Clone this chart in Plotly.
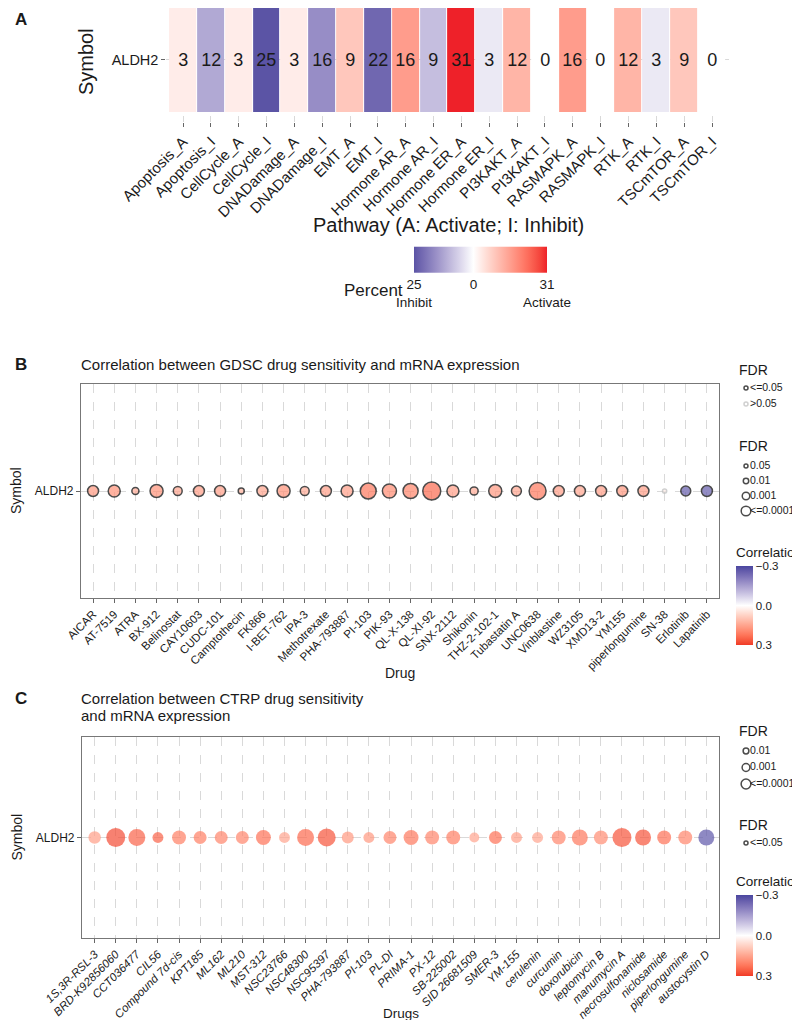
import plotly.graph_objects as go

# ---------------- data ----------------
pathways = ["Apoptosis_A", "Apoptosis_I", "CellCycle_A", "CellCycle_I", "DNADamage_A",
            "DNADamage_I", "EMT_A", "EMT_I", "Hormone AR_A", "Hormone AR_I",
            "Hormone ER_A", "Hormone ER_I", "PI3KAKT_A", "PI3KAKT_I", "RASMAPK_A",
            "RASMAPK_I", "RTK_A", "RTK_I", "TSCmTOR_A", "TSCmTOR_I"]
pathway_percent = [3, 12, 3, 25, 3, 16, 9, 22, 16, 9, 31, 3, 12, 0, 16, 0, 12, 3, 9, 0]
gene = "ALDH2"

gdsc_drugs = ["AICAR", "AT-7519", "ATRA", "BX-912", "Belinostat", "CAY10603", "CUDC-101",
              "Camptothecin", "FK866", "I-BET-762", "IPA-3", "Methotrexate", "PHA-793887",
              "PI-103", "PIK-93", "QL-X-138", "QL-XI-92", "SNX-2112", "Shikonin",
              "THZ-2-102-1", "Tubastatin A", "UNC0638", "Vinblastine", "WZ3105", "XMD13-2",
              "YM155", "piperlongumine", "SN-38", "Erlotinib", "Lapatinib"]
gdsc_cor = [0.17, 0.18, 0.14, 0.18, 0.15, 0.16, 0.16, 0.13, 0.15, 0.18, 0.14, 0.16, 0.16,
            0.22, 0.19, 0.20, 0.24, 0.16, 0.14, 0.17, 0.15, 0.22, 0.16, 0.15, 0.16, 0.17,
            0.16, 0.03, -0.26, -0.26]
gdsc_neglog_fdr = [3.6, 4.0, 2.1, 4.4, 2.8, 3.6, 3.6, 1.7, 3.6, 4.4, 2.8, 3.6, 4.0, 5.5, 4.8,
                   5.2, 6.3, 4.0, 2.5, 4.4, 3.2, 5.9, 3.6, 3.6, 3.6, 3.6, 3.6, 1.0, 3.2, 3.6]

ctrp_drugs = ["1S,3R-RSL-3", "BRD-K92856060", "CCT036477", "CIL56", "Compound 7d-cis",
              "KPT185", "ML162", "ML210", "MST-312", "NSC23766", "NSC48300", "NSC95397",
              "PHA-793887", "PI-103", "PL-DI", "PRIMA-1", "PX-12", "SB-225002",
              "SID 26681509", "SMER-3", "YM-155", "cerulenin", "curcumin", "doxorubicin",
              "leptomycin B", "manumycin A", "necrosulfonamide", "niclosamide",
              "piperlongumine", "austocystin D"]
ctrp_cor = [0.16, 0.28, 0.25, 0.25, 0.21, 0.21, 0.20, 0.20, 0.23, 0.15, 0.24, 0.27, 0.17,
            0.17, 0.20, 0.22, 0.20, 0.21, 0.15, 0.23, 0.16, 0.15, 0.20, 0.22, 0.19, 0.27,
            0.27, 0.23, 0.20, -0.27]
ctrp_neglog_fdr = [4.1, 6.7, 5.9, 3.5, 4.7, 4.3, 4.3, 4.3, 5.1, 3.5, 5.9, 6.3, 3.9, 3.5, 4.3,
                   5.1, 4.7, 4.7, 3.1, 4.3, 3.5, 3.5, 4.7, 5.5, 4.7, 6.7, 5.5, 4.7, 4.7, 5.5]

# legend breaks
gdsc_sig_labels = ["<=0.05", ">0.05"]
gdsc_size_labels = ["0.05", "0.01", "0.001", "<=0.0001"]
gdsc_size_breaks = [1.3, 2.0, 3.0, 4.0]
ctrp_size_labels = ["0.01", "0.001", "<=0.0001"]
ctrp_size_breaks = [2.0, 3.0, 4.0]
ctrp_sig_labels = ["<=0.05"]

# ---------------- helpers ----------------
W, H = 800, 1020
def PX(x): return x / W
def PY(y): return 1 - y / H

def _h2rgb(h):
    h = h.lstrip("#")
    return [int(h[i:i + 2], 16) / 255 for i in (0, 2, 4)]

def _lin(c): return c / 12.92 if c <= 0.04045 else ((c + 0.055) / 1.055) ** 2.4
def _gam(c):
    c = max(0.0, min(1.0, c))
    return 12.92 * c if c <= 0.0031308 else 1.055 * c ** (1 / 2.4) - 0.055

def _rgb2lab(rgb):
    r, g, b = [_lin(c) for c in rgb]
    X = (0.4124 * r + 0.3576 * g + 0.1805 * b) / 0.95047
    Y = (0.2126 * r + 0.7152 * g + 0.0722 * b)
    Z = (0.0193 * r + 0.1192 * g + 0.9505 * b) / 1.08883
    f = lambda t: t ** (1 / 3) if t > 0.008856 else 7.787 * t + 16 / 116
    fx, fy, fz = f(X), f(Y), f(Z)
    return [116 * fy - 16, 500 * (fx - fy), 200 * (fy - fz)]

def _lab2hex(lab):
    L, a, b = lab
    fy = (L + 16) / 116
    fx = fy + a / 500
    fz = fy - b / 200
    fi = lambda t: t ** 3 if t ** 3 > 0.008856 else (t - 16 / 116) / 7.787
    X, Y, Z = fi(fx) * 0.95047, fi(fy), fi(fz) * 1.08883
    r = 3.2406 * X - 1.5372 * Y - 0.4986 * Z
    g = -0.9689 * X + 1.8758 * Y + 0.0415 * Z
    bb = 0.0557 * X - 0.2040 * Y + 1.0570 * Z
    return "#%02x%02x%02x" % tuple(int(round(_gam(c) * 255)) for c in (r, g, bb))

def lab_scale(low, mid, high, midpos, n=12):
    lo, mi, hi = _rgb2lab(_h2rgb(low)), _rgb2lab(_h2rgb(mid)), _rgb2lab(_h2rgb(high))
    out = []
    for i in range(n + 1):
        t = i / n
        out.append([midpos * t, _lab2hex([lo[k] + (mi[k] - lo[k]) * t for k in range(3)])])
    for i in range(1, n + 1):
        t = i / n
        out.append([midpos + (1 - midpos) * t,
                    _lab2hex([mi[k] + (hi[k] - mi[k]) * t for k in range(3)])])
    return out

FONT = "Liberation Sans, Arial, sans-serif"
TXT = "#1a1a1a"

# ---------------- panel A heatmap ----------------
signed = [p if name.endswith("_A") else -p for name, p in zip(pathways, pathway_percent)]
zmin = -max(p for n, p in zip(pathways, pathway_percent) if n.endswith("_I"))
zmax = max(p for n, p in zip(pathways, pathway_percent) if n.endswith("_A"))
heat_scale = lab_scale("#5b54a5", "#ffffff", "#ee2129", -zmin / (zmax - zmin))

fig = go.Figure()
fig.add_trace(go.Heatmap(
    x=pathways, y=[gene], z=[signed], text=[[str(p) for p in pathway_percent]],
    texttemplate="%{text}", textfont=dict(size=18, color=TXT, family=FONT),
    colorscale=heat_scale, zmin=zmin, zmax=zmax, xgap=1, xaxis="x", yaxis="y",
    hoverinfo="skip",
    colorbar=dict(orientation="h", x=PX(472.5), xanchor="center", y=PY(268),
                  yanchor="middle", len=133, lenmode="pixels", thickness=26,
                  thicknessmode="pixels", tickvals=[zmin, 0, zmax],
                  ticktext=[f"{-zmin}<br>Inhibit", "0", f"{zmax}<br>Activate"],
                  tickfont=dict(size=13.5, color=TXT, family=FONT), ticks="",
                  outlinewidth=0, xpad=0, ypad=0),
))

# ---------------- panel B / C dots ----------------
cor_scale = lab_scale("#f03a26", "#ffffff", "#4a469f", 0.5)

def size_b(v): return 2.6 * v + 1.6
def size_c(v): return 2.5 * v + 2.2

def cbar(ytop, length):
    return dict(x=PX(728), xanchor="left", y=PY(ytop), yanchor="top",
                len=length, lenmode="pixels", thickness=17, thicknessmode="pixels",
                tickvals=[0.3, 0, -0.3], ticktext=["\u22120.3", "0.0", "0.3"],
                tickfont=dict(size=11.5, color=TXT, family=FONT), ticks="",
                outlinewidth=0, xpad=0, ypad=0)

gdsc_line = ["#000000" if v >= 1.3 else "#bdbdbd" for v in gdsc_neglog_fdr]
fig.add_trace(go.Scatter(
    x=gdsc_drugs, y=[gene] * len(gdsc_drugs), mode="markers", xaxis="x2", yaxis="y2",
    showlegend=False, hoverinfo="skip",
    marker=dict(size=[size_b(v) for v in gdsc_neglog_fdr], color=[-c for c in gdsc_cor],
                colorscale=cor_scale, cmin=-0.3, cmax=0.3,
                line=dict(color=gdsc_line, width=1.5), colorbar=cbar(558, 79)),
))

fig.add_trace(go.Scatter(
    x=ctrp_drugs, y=[gene] * len(ctrp_drugs), mode="markers", xaxis="x3", yaxis="y3",
    showlegend=False, hoverinfo="skip",
    marker=dict(size=[size_c(v) for v in ctrp_neglog_fdr], color=[-c for c in ctrp_cor],
                colorscale=cor_scale, cmin=-0.3, cmax=0.3, line=dict(width=0),
                colorbar=cbar(887, 81)),
))

# ---------------- legend keys (drawn on small auxiliary axes) ----------------
def key_traces(labels, sizes, line_colors, ax):
    sym = go.Scatter(x=[0] * len(labels), y=labels, mode="markers", cliponaxis=False,
                     showlegend=False, hoverinfo="skip", xaxis="x" + ax, yaxis="y" + ax,
                     marker=dict(size=sizes, color="white",
                                 line=dict(color=line_colors, width=1.5)))
    txt = go.Scatter(x=[1] * len(labels), y=labels, mode="text", text=labels,
                     textposition="middle right", cliponaxis=False, showlegend=False,
                     hoverinfo="skip", xaxis="x" + ax, yaxis="y" + ax,
                     textfont=dict(size=10.5, color=TXT, family=FONT))
    return [sym, txt]

for t in key_traces(gdsc_sig_labels, [4, 4], ["#000000", "#bdbdbd"], "4"):
    fig.add_trace(t)
for t in key_traces(gdsc_size_labels, [size_b(v) * 0.8 for v in gdsc_size_breaks],
                    ["#000000"] * 4, "5"):
    fig.add_trace(t)
for t in key_traces(ctrp_size_labels, [size_c(v) * 0.8 for v in ctrp_size_breaks],
                    ["#000000"] * 3, "6"):
    fig.add_trace(t)
for t in key_traces(ctrp_sig_labels, [4], ["#000000"], "7"):
    fig.add_trace(t)

# ---------------- layout ----------------
grid = dict(showgrid=True, gridcolor="#d9d9d9", griddash="dash", gridwidth=0.8,
            zeroline=False, automargin=False)
tick_common = dict(ticks="outside", ticklen=4, tickcolor="#666666", tickwidth=1)
box = dict(showline=True, linecolor="#777777", linewidth=1.2, mirror=True)

def key_axes(k, n, ytop_item, ybot_item, step=16):
    if n > 1:
        step = (ybot_item - ytop_item) / (n - 1)
    xa = dict(domain=[PX(738), PX(742)], range=[0, 1], visible=False, automargin=False,
              anchor="y" + k)
    ya = dict(domain=[PY(ybot_item + step / 2), PY(ytop_item - step / 2)],
              range=[n - 0.5, -0.5], type="category", visible=False, automargin=False,
              anchor="x" + k)
    return xa, ya

x4, y4 = key_axes("4", 2, 380, 396)
x5, y5 = key_axes("5", 4, 458, 503)
x6, y6 = key_axes("6", 3, 743, 776)
x7, y7 = key_axes("7", 1, 835, 835)

B_TOP, B_BOT = 376, 590
C_TOP, C_BOT = 729, 930

fig.update_layout(
    template="none",
    width=W, height=H, margin=dict(l=0, r=0, t=0, b=0, autoexpand=False),
    paper_bgcolor="white", plot_bgcolor="white",
    font=dict(family=FONT, color=TXT),
    showlegend=False,
    xaxis=dict(domain=[PX(158.3), PX(720.7)], anchor="y", range=[-0.6, len(pathways) - 0.4],
               type="category", tickangle=-45, tickfont=dict(size=15, color=TXT),
               showline=False, **grid, **tick_common),
    yaxis=dict(domain=[PY(114), PY(0)], anchor="x", range=[-0.6, 0.5], type="category",
               tickfont=dict(size=14.5, color=TXT), showline=False, **grid, **tick_common),
    xaxis2=dict(domain=[PX(73), PX(711)], anchor="y2", range=[-0.57, len(gdsc_drugs) - 0.43],
                type="category", tickangle=-45, tickfont=dict(size=11.5, color=TXT), **box,
                **grid, **tick_common),
    yaxis2=dict(domain=[PY(B_BOT), PY(B_TOP)], anchor="x2", range=[-1, 1], type="category",
                tickfont=dict(size=12, color=TXT), **box, **grid, **tick_common),
    xaxis3=dict(domain=[PX(74), PX(711)], anchor="y3", range=[-0.6, len(ctrp_drugs) - 0.4],
                type="category", tickangle=-45,
                tickfont=dict(size=11.5, color=TXT, style="italic"), **box,
                **grid, **tick_common),
    yaxis3=dict(domain=[PY(C_BOT), PY(C_TOP)], anchor="x3", range=[-1, 1], type="category",
                tickfont=dict(size=12, color=TXT), **box, **grid, **tick_common),
    xaxis4=x4, yaxis4=y4, xaxis5=x5, yaxis5=y5, xaxis6=x6, yaxis6=y6,
    xaxis7=x7, yaxis7=y7,
)

def ann(text, x, y, size, xanchor="left", angle=0, bold=False):
    fig.add_annotation(text=f"<b>{text}</b>" if bold else text, x=PX(x), y=PY(y),
                       xref="paper", yref="paper", showarrow=False, xanchor=xanchor,
                       yanchor="middle", textangle=angle, align="left", borderpad=0,
                       font=dict(size=size, color=TXT, family=FONT))

ann("A", 6, 12, 17, bold=True)
ann("Symbol", 78, 54, 20, xanchor="center", angle=-90)
ann("Pathway (A: Activate; I: Inhibit)", 440, 217, 20, xanchor="center")
ann("Percent", 396, 282, 17, xanchor="right")

ann("B", 6, 356, 17, bold=True)
ann("Correlation between GDSC drug sensitivity and mRNA expression", 72, 356, 15)
ann("Symbol", 8, (B_TOP + B_BOT) / 2, 14, xanchor="center", angle=-90)
ann("Drug", (73 + 711) / 2, 665, 14, xanchor="center")
ann("FDR", 730, 362, 14)
ann("FDR", 730, 438, 14)
ann("Correlation", 727, 544, 13.5)

ann("C", 6, 690, 17, bold=True)
ann("Correlation between CTRP drug sensitivity", 72, 690, 15)
ann("and mRNA expression", 72, 707, 15)
ann("Symbol", 8, (C_TOP + C_BOT) / 2, 14, xanchor="center", angle=-90)
ann("Drugs", (74 + 711) / 2, 1005, 13.5, xanchor="center")
ann("FDR", 730, 723, 14)
ann("FDR", 730, 817, 14)
ann("Correlation", 727, 873, 13.5)

fig.write_html("out.html")
